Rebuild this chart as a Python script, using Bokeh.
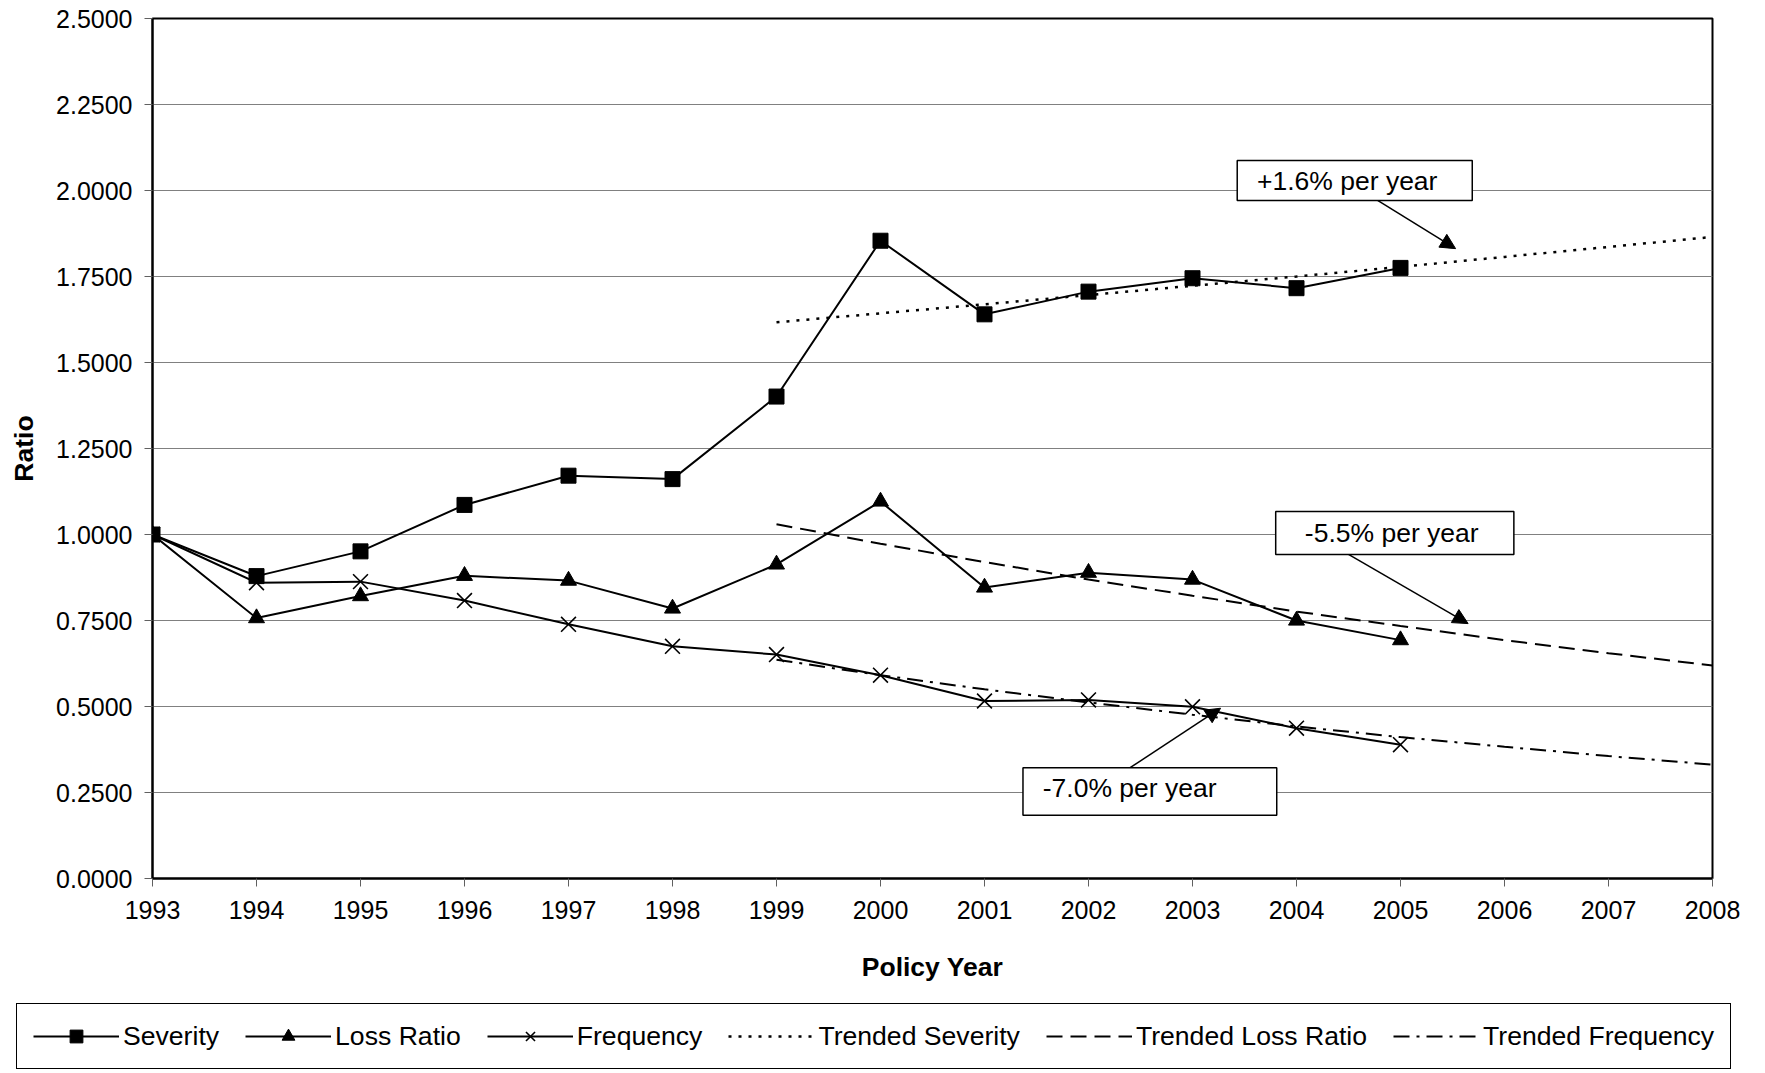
from bokeh.plotting import figure
from bokeh.models import (Legend, LegendItem, BoxAnnotation, Label, Arrow, NormalHead,
                          FixedTicker, PrintfTickFormatter, Range1d)
from bokeh.embed import file_html
from bokeh.resources import INLINE

years = [1993, 1994, 1995, 1996, 1997, 1998, 1999, 2000, 2001, 2002, 2003, 2004, 2005]
severity = [1.000, 0.879, 0.951, 1.086, 1.171, 1.161, 1.401, 1.854, 1.640, 1.706, 1.745, 1.716, 1.775]
loss_ratio = [1.000, 0.757, 0.821, 0.880, 0.866, 0.785, 0.913, 1.096, 0.846, 0.889, 0.869, 0.750, 0.693]
frequency = [1.000, 0.860, 0.863, 0.808, 0.739, 0.675, 0.651, 0.591, 0.516, 0.519, 0.499, 0.437, 0.389]

trend_years = [1999, 2000, 2001, 2002, 2003, 2004, 2005, 2006, 2007, 2008]
trended_severity = [1.617, 1.643, 1.669, 1.696, 1.723, 1.750, 1.778, 1.807, 1.836, 1.865]
trended_loss_ratio = [1.030, 0.973, 0.920, 0.869, 0.822, 0.776, 0.734, 0.693, 0.655, 0.619]
trended_frequency = [0.636, 0.591, 0.550, 0.512, 0.476, 0.442, 0.411, 0.383, 0.356, 0.331]

x_ticks = list(range(1993, 2009))
y_ticks = [0.0, 0.25, 0.5, 0.75, 1.0, 1.25, 1.5, 1.75, 2.0, 2.25, 2.5]

series_labels = ["Severity", "Loss Ratio", "Frequency",
                 "Trended Severity", "Trended Loss Ratio", "Trended Frequency"]

annotations = [
    # text, box (left, right, bottom, top), text x, text y, arrow start, arrow end
    ("+1.6% per year", (2003.43, 2005.69, 1.971, 2.087), 2003.62, 2.029, (2004.78, 1.971), (2005.53, 1.831)),
    ("-5.5% per year", (2003.80, 2006.09, 0.942, 1.067), 2004.08, 1.005, (2004.50, 0.942), (2005.65, 0.741)),
    ("-7.0% per year", (2001.37, 2003.81, 0.184, 0.322), 2001.56, 0.262, (2002.40, 0.322), (2003.27, 0.495)),
]

FONT = "Liberation Sans"
NAN = float("nan")

# style per series: (marker, marker size, dash, width)
styles = [
    ("square", 15, "solid", 2),
    ("triangle", 16, "solid", 2),
    ("x", 21, "solid", 2),
    (None, 0, "3 7", 2.5),
    (None, 0, "16 8", 2),
    (None, 0, "16 7 3 7", 2),
]


def draw_series(fig, xs, ys, style):
    marker, msize, dash, width = style
    rs = [fig.line(xs, ys, line_color="black", line_width=width, line_dash=dash)]
    if marker is not None:
        if marker == "x":
            rs.append(fig.scatter(xs, ys, marker=marker, size=msize, line_color="black", line_width=1.6))
        else:
            rs.append(fig.scatter(xs, ys, marker=marker, size=msize, color="black"))
    return rs


p = figure(frame_width=1560, frame_height=860, output_backend="svg", toolbar_location=None,
           x_range=Range1d(1993, 2008), y_range=Range1d(0, 2.5),
           min_border_left=152, min_border_right=40, min_border_top=18, min_border_bottom=122)

p.outline_line_color = "black"
p.outline_line_width = 2
p.background_fill_color = "white"
p.border_fill_color = "white"

p.xgrid.grid_line_color = None
p.ygrid.grid_line_color = "#808080"
p.ygrid.grid_line_width = 1

p.xaxis.ticker = FixedTicker(ticks=x_ticks)
p.yaxis.ticker = FixedTicker(ticks=y_ticks)
p.yaxis.formatter = PrintfTickFormatter(format="%.4f")
for ax in (p.xaxis[0], p.yaxis[0]):
    ax.axis_line_color = "black"
    ax.axis_line_width = 2
    ax.major_tick_line_color = "#606060"
    ax.major_tick_line_width = 1
    ax.major_tick_out = 8
    ax.major_tick_in = 0
    ax.minor_tick_line_color = None
    ax.major_label_text_font = FONT
    ax.major_label_text_font_size = "25px"
    ax.major_label_text_color = "black"
    ax.axis_label_text_font = FONT
    ax.axis_label_text_font_style = "bold"
    ax.axis_label_text_font_size = "26.5px"
    ax.axis_label_text_color = "black"
p.xaxis.axis_label = "Policy Year"
p.yaxis.axis_label = "Ratio"
p.xaxis.major_label_standoff = 14
p.xaxis.axis_label_standoff = 30
p.yaxis.major_label_standoff = 12
p.yaxis.axis_label_standoff = 14

data_series = [
    (years, severity), (years, loss_ratio), (years, frequency),
    (trend_years, trended_severity), (trend_years, trended_loss_ratio), (trend_years, trended_frequency),
]
for (xs, ys), style in zip(data_series, styles):
    draw_series(p, xs, ys, style)

for text, (bl, br, bb, bt), tx, ty, (ax0, ay0), (ax1, ay1) in annotations:
    p.add_layout(Arrow(end=NormalHead(size=15, fill_color="black", line_color="black"),
                       x_start=ax0, y_start=ay0, x_end=ax1, y_end=ay1,
                       line_color="black", line_width=1.5))
    p.add_layout(BoxAnnotation(left=bl, right=br, bottom=bb, top=bt,
                               fill_color="white", fill_alpha=1.0,
                               line_color="black", line_alpha=1.0, line_width=1.5, level="overlay"))
    p.add_layout(Label(x=tx, y=ty, text=text, text_font=FONT, text_font_size="26.5px",
                       text_baseline="middle", text_color="black", level="overlay"))

# Legend strip below the chart (separate root so its frame spans the full width)
lg = figure(width=1752, height=73, output_backend="svg", toolbar_location=None,
            x_range=Range1d(0, 1), y_range=Range1d(0, 1),
            min_border=0, min_border_left=0, min_border_right=0,
            min_border_top=0, min_border_bottom=0,
            x_axis_type=None, y_axis_type=None)
lg.outline_line_color = None
lg.xgrid.grid_line_color = None
lg.ygrid.grid_line_color = None
items = []
for label, style in zip(series_labels, styles):
    rs = draw_series(lg, [NAN], [NAN], style)
    items.append(LegendItem(label=label, renderers=rs))

legend = Legend(items=items, orientation="horizontal", location=(16, 4),
                label_text_font=FONT, label_text_font_size="26.6px", label_text_color="black",
                label_standoff=4, glyph_width=86, glyph_height=32, spacing=26, padding=16, margin=0,
                border_line_color="black", border_line_width=1.5, border_line_alpha=1.0,
                background_fill_alpha=1.0)
lg.add_layout(legend, "center")

open("out.html", "w").write(file_html([p, lg], INLINE))
